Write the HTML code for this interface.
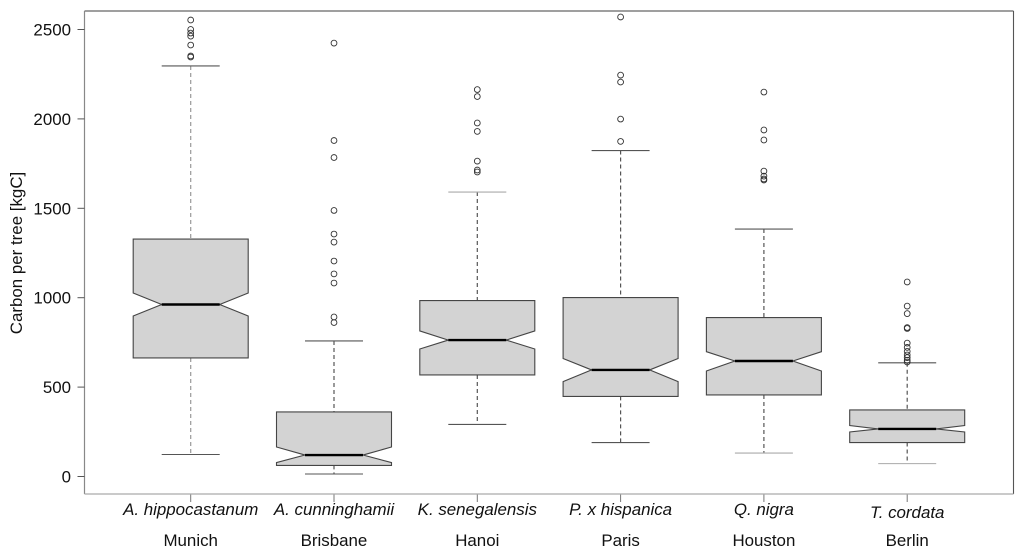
<!DOCTYPE html>
<html lang="en">
<head>
<meta charset="utf-8">
<title>Carbon per tree by species and city</title>
<style>
html,body{margin:0;padding:0;background:#fff;width:1024px;height:559px;overflow:hidden}
svg{display:block}
text{font-family:"Liberation Sans",sans-serif;font-size:16.9px;fill:#111}
</style>
</head>
<body>
<svg id="chart" xmlns="http://www.w3.org/2000/svg" width="1024" height="559" viewBox="0 0 1024 559">
  <defs><filter id="soft" x="-5%" y="-5%" width="110%" height="110%"><feGaussianBlur stdDeviation="0.3"/></filter></defs>
  <rect x="0" y="0" width="1024" height="559" fill="#fff"/>
  <g id="plot-layer" filter="url(#soft)"></g>
  <g id="axes-layer"></g>
</svg>
<script>
const species = ['A. hippocastanum','A. cunninghamii','K. senegalensis','P. x hispanica','Q. nigra','T. cordata'];
const cities = ['Munich','Brisbane','Hanoi','Paris','Houston','Berlin'];
const whiskerLow = [123,14,291,190,131,72];
const q1 = [663,62,568,448,456,190];
const notchLow = [898,78,713,531,590,249];
const median = [962,120,763,596,646,266];
const notchHigh = [1026,165,814,660,698,285];
const q3 = [1328,361,984,1001,889,372];
const whiskerHigh = [2296,758,1591,1823,1384,636];
const outliers = [
  [2553,2500,2480,2463,2413,2352,2346],
  [2424,1879,1784,1488,1356,1311,1205,1133,1082,892,861],
  [2164,2125,1977,1930,1764,1714,1703],
  [2570,2245,2206,1999,1874],
  [2150,1938,1882,1708,1680,1664,1658],
  [1088,953,911,833,828,746,722,700,680,665,650,640]
];
const yTicks = [0,500,1000,1500,2000,2500];
const yTitle = 'Carbon per tree [kgC]';

const NS = 'http://www.w3.org/2000/svg';
const frameLeftX = 84.5, frameRightX = 1013.5, frameTopY = 11, frameBottomY = 494;
const yScale = v => 476.5 - v * 447 / 2500;
const xScale = i => 190.7 + i * 143.3;
const boxHalf = 57.5, notchHalf = 29, capHalf = 29;
const plotLayer = document.getElementById('plot-layer');
const axesLayer = document.getElementById('axes-layer');

function mk(parent, tag, attrs) {
  const el = document.createElementNS(NS, tag);
  for (const k in attrs) el.setAttribute(k, attrs[k]);
  parent.appendChild(el);
  return el;
}

species.forEach((name, i) => {
  const cx = xScale(i);
  const g = mk(plotLayer, 'g', {});
  
  
  const whiskerColor = i === 0 ? '#999' : '#555';

  const wu = mk(g, 'line', {x1: cx, x2: cx, y1: yScale(whiskerHigh[i]), y2: yScale(q3[i]), stroke: whiskerColor, 'stroke-width': 1.2, 'stroke-dasharray': '4 3'});
  
  
  const wl = mk(g, 'line', {x1: cx, x2: cx, y1: yScale(q1[i]), y2: yScale(whiskerLow[i]), stroke: whiskerColor, 'stroke-width': 1.2, 'stroke-dasharray': '4 3'});
  
  

  const cu = mk(g, 'line', {x1: cx - capHalf, x2: cx + capHalf, y1: yScale(whiskerHigh[i]), y2: yScale(whiskerHigh[i]), stroke: i === 2 ? '#aaa' : '#555', 'stroke-width': 1.1});
  
  
  const cl = mk(g, 'line', {x1: cx - capHalf, x2: cx + capHalf, y1: yScale(whiskerLow[i]), y2: yScale(whiskerLow[i]), stroke: i >= 4 ? '#aaa' : '#555', 'stroke-width': 1.1});
  
  

  const pts = [
    [cx - boxHalf, yScale(q1[i])], [cx - boxHalf, yScale(notchLow[i])], [cx - notchHalf, yScale(median[i])],
    [cx - boxHalf, yScale(notchHigh[i])], [cx - boxHalf, yScale(q3[i])], [cx + boxHalf, yScale(q3[i])],
    [cx + boxHalf, yScale(notchHigh[i])], [cx + notchHalf, yScale(median[i])], [cx + boxHalf, yScale(notchLow[i])],
    [cx + boxHalf, yScale(q1[i])]
  ];
  const box = mk(g, 'polygon', {points: pts.map(p => p.join(',')).join(' '), fill: '#d3d3d3', stroke: '#444', 'stroke-width': 1.1});
  
  

  const med = mk(g, 'line', {x1: cx - notchHalf, x2: cx + notchHalf, y1: yScale(median[i]), y2: yScale(median[i]), stroke: '#000', 'stroke-width': 2.4});
  
  

  outliers[i].forEach(v => {
    const o = mk(g, 'circle', {cx: cx, cy: yScale(v), r: 2.9, fill: 'none', stroke: '#333', 'stroke-width': 0.9});
    
    
  });

  const tick = mk(axesLayer, 'line', {x1: cx, x2: cx, y1: frameBottomY, y2: 502, stroke: '#777', 'stroke-width': 1});
  
  

  const sp = mk(axesLayer, 'text', {x: cx, y: i === 5 ? 518 : 515, 'text-anchor': 'middle', 'font-style': 'italic'});
  
  
  sp.textContent = name;

  const ct = mk(axesLayer, 'text', {x: cx, y: 546, 'text-anchor': 'middle'});
  
  
  ct.textContent = cities[i];
});

const frameTopLine = mk(axesLayer, 'line', {x1: frameLeftX, x2: frameRightX, y1: frameTopY, y2: frameTopY, stroke: '#666', 'stroke-width': 1.2});


const frameRightLine = mk(axesLayer, 'line', {x1: frameRightX, x2: frameRightX, y1: frameTopY, y2: frameBottomY, stroke: '#555', 'stroke-width': 1.1});


const frameLeftLine = mk(axesLayer, 'line', {x1: frameLeftX, x2: frameLeftX, y1: frameTopY, y2: frameBottomY, stroke: '#888', 'stroke-width': 1.2});


const frameBottomLine = mk(axesLayer, 'line', {x1: frameLeftX, x2: frameRightX, y1: frameBottomY, y2: frameBottomY, stroke: '#aaa', 'stroke-width': 1.3});



yTicks.forEach(v => {
  const t = mk(axesLayer, 'line', {x1: 77.5, x2: frameLeftX, y1: yScale(v), y2: yScale(v), stroke: '#555', 'stroke-width': 1});
  
  
  const l = mk(axesLayer, 'text', {x: 71, y: yScale(v) + 6, 'text-anchor': 'end'});
  
  
  l.textContent = String(v);
});

const axisTitle = mk(axesLayer, 'text', {x: 0, y: 0, 'text-anchor': 'middle', transform: 'translate(22,253) rotate(-90)'});


axisTitle.textContent = yTitle;
</script>
</body>
</html>
